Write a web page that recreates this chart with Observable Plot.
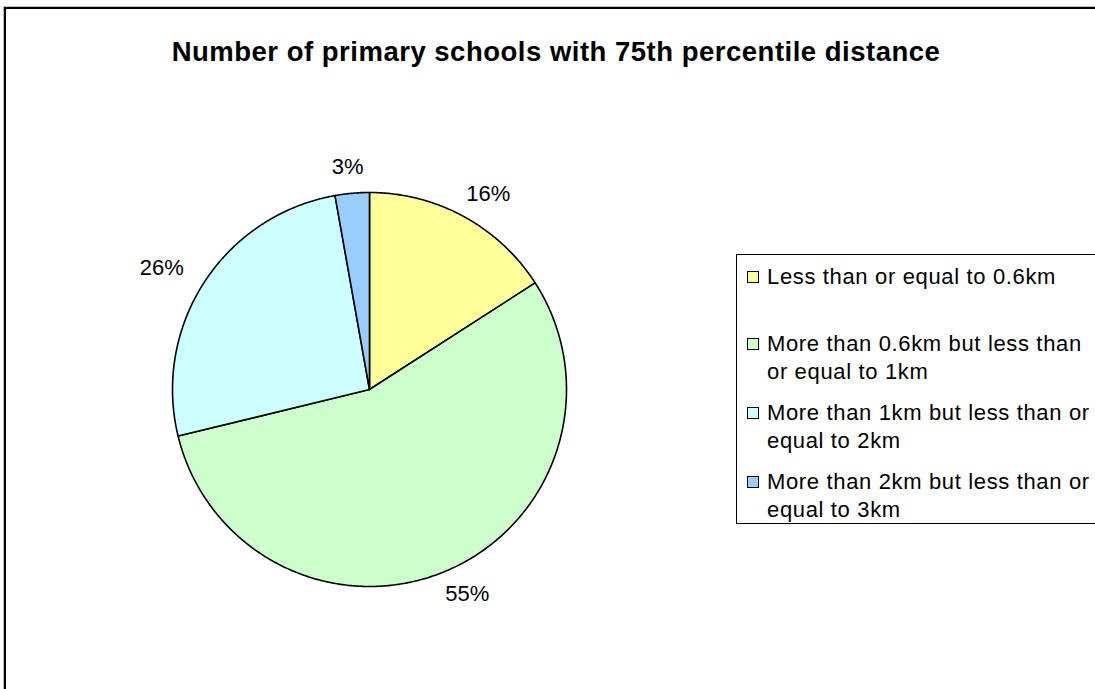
<!DOCTYPE html>
<html><head><meta charset="utf-8">
<script src="https://cdn.jsdelivr.net/npm/d3@7"></script>
<script src="https://cdn.jsdelivr.net/npm/@observablehq/plot@0.6"></script>
<style>
body{margin:0;background:#fff;font-family:"Liberation Sans",Arial,sans-serif;}
#wrap{position:relative;width:1095px;height:689px;overflow:hidden;background:#fff;}
#frame{position:absolute;left:4px;top:7px;width:1300px;height:900px;border-left:2px solid #000;border-top:2px solid #000;box-shadow:-1px -1px 0 #bbb;}
#chart{position:absolute;left:0;top:0;}
#title{position:absolute;left:556px;top:36px;transform:translateX(-50%);white-space:nowrap;font-weight:bold;font-size:27.5px;letter-spacing:0.5px;line-height:32px;color:#000;}
#legend{position:absolute;left:736px;top:254px;width:420px;height:268px;border:1px solid #000;background:#fff;}
.item{position:absolute;left:0;font-size:22px;line-height:28px;letter-spacing:0.65px;color:#000;}
.sw{position:absolute;left:10px;top:8px;width:10px;height:10px;border:1px solid #000;}
.txt{position:absolute;left:30px;top:0;width:336px;white-space:normal;}
</style></head>
<body>
<div id="wrap">
<div id="frame"></div>
<div id="chart"></div>
<div id="title"></div>
<div id="legend"></div>
</div>
<script>
const title = "Number of primary schools with 75th percentile distance";
const categories = [
  "Less than or equal to 0.6km",
  "More than 0.6km but less than or equal to 1km",
  "More than 1km but less than or equal to 2km",
  "More than 2km but less than or equal to 3km"
];
const values = [15.9, 55.3, 26.0, 2.8];
const labels = ["16%", "55%", "26%", "3%"];
const colors = ["#FFFF99", "#CCFFCC", "#CCFFFF", "#99CCFF"];

const W = 1095, H = 689, cx = 369, cy = 389, R = 197;
const total = d3.sum(values);
const pts = [];
const labs = [];
let acc = 0;
values.forEach((v, i) => {
  const a0 = acc / total * 2 * Math.PI;
  acc += v;
  const a1 = acc / total * 2 * Math.PI;
  const n = Math.max(2, Math.ceil((a1 - a0) / (Math.PI / 360)));
  pts.push({cat: categories[i], x: 0, y: 0});
  for (let k = 0; k <= n; k++) {
    const a = a0 + (a1 - a0) * k / n;
    pts.push({cat: categories[i], x: Math.sin(a), y: Math.cos(a)});
  }
  pts.push({cat: categories[i], x: 0, y: 0});
  const am = (a0 + a1) / 2;
  const ux = Math.sin(am), uy = Math.cos(am);
  // label box pushed outward from the rim (gap + half box size)
  labs.push({x: (211 + 37) * ux / R, y: (211 + 12) * uy / R, text: labels[i]});
});

const plot = Plot.plot({
  width: W, height: H,
  margin: 0,
  x: {domain: [-cx / R, (W - cx) / R], axis: null},
  y: {domain: [-(H - cy) / R, cy / R], axis: null},
  color: {domain: categories, range: colors},
  style: {background: "transparent", fontFamily: "'Liberation Sans', Arial, sans-serif"},
  marks: [
    Plot.line(pts, {x: "x", y: "y", z: "cat", fill: "cat", stroke: "#000", strokeWidth: 1.6, curve: "linear", strokeLinejoin: "round"}),
    Plot.text(labs, {x: "x", y: "y", text: "text", fontSize: 22, fill: "#000", textAnchor: "middle", lineAnchor: "middle"})
  ]
});
document.getElementById("chart").appendChild(plot);
document.getElementById("title").textContent = title;

const leg = document.getElementById("legend");
categories.forEach((c, i) => {
  const it = document.createElement("div");
  it.className = "item";
  it.style.top = (8 + i * 69 - (i > 0 ? 2 : 0)) + "px";
  const sw = document.createElement("div");
  sw.className = "sw";
  sw.style.background = colors[i];
  const tx = document.createElement("div");
  tx.className = "txt";
  tx.textContent = c;
  it.appendChild(sw); it.appendChild(tx);
  leg.appendChild(it);
});
</script>
</body></html>
